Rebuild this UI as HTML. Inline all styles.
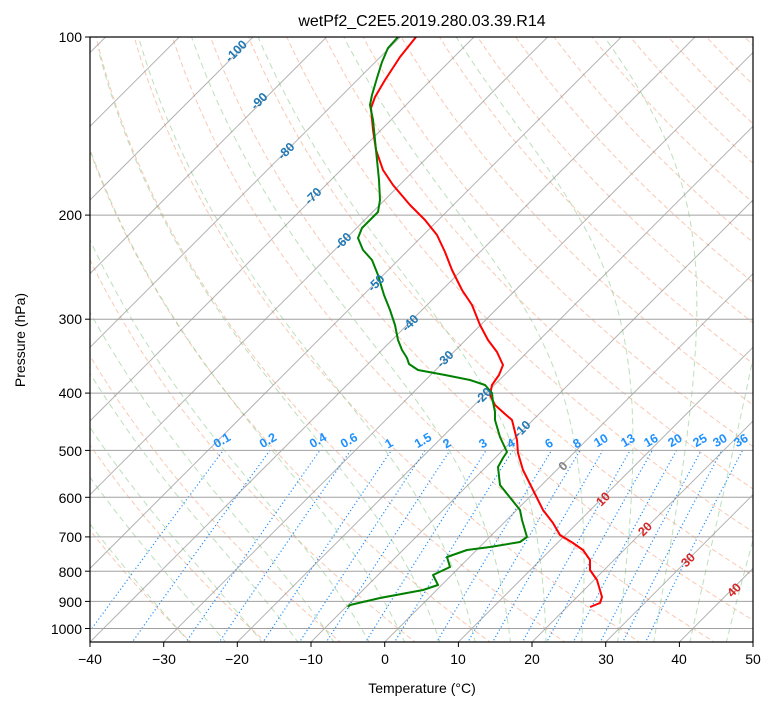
<!DOCTYPE html>
<html><head><meta charset="utf-8"><style>
body{margin:0;background:#fff;overflow:hidden;}
svg{display:block;font-family:"Liberation Sans","DejaVu Sans",sans-serif;}
</style></head><body>
<svg id="s" width="775" height="708" viewBox="0 0 775 708" xmlns="http://www.w3.org/2000/svg">
<defs><clipPath id="c"><rect x="90" y="37" width="663" height="605"/></clipPath></defs>
<rect width="775" height="708" fill="#fff"/>
<g id="bg" clip-path="url(#c)"></g>
<g id="data" clip-path="url(#c)" fill="none" stroke-width="2" stroke-linejoin="round">
<polyline stroke="red" points="416,37 400,57 385,80 375,97 371,108 373,130 376,150 383,170 393,185 410,205 425,220 437,235 445,252 452,270 462,290 472,305 480,325 488,340 497,352 503,365 499,375 492,385 490,395 495,405 505,414 512,420 517,440 518,453 523,470 533,490 543,510 553,523 560,535 573,543 583,550 590,560 590,570 597,580 602,597 600,603 590,607"/>
<polyline stroke="green" points="398,37 388,48 382,62 377,78 372,95 370,105 373,120 375,140 377,160 379,180 380,200 378,212 372,218 362,228 358,238 363,250 372,260 378,275 384,295 390,310 395,325 398,340 402,350 407,358 409,364 418,370 445,375 470,380 485,385 492,393 493,402 495,412 495,420 500,437 507,452 503,458 498,467 500,485 512,500 520,510 522,520 527,537 520,542 490,547 467,550 447,557 450,567 433,575 438,585 423,590 380,598 350,605 348,607"/>
</g>
<g font-size="12.5" font-weight="bold" text-anchor="middle">
<g fill="#1f77b4">
<text transform="translate(239,54) rotate(-45)">-100</text>
<text transform="translate(262,104) rotate(-45)">-90</text>
<text transform="translate(289,154) rotate(-45)">-80</text>
<text transform="translate(316,199) rotate(-45)">-70</text>
<text transform="translate(346,244) rotate(-45)">-60</text>
<text transform="translate(379,286) rotate(-45)">-50</text>
<text transform="translate(413,326) rotate(-45)">-40</text>
<text transform="translate(448,362) rotate(-45)">-30</text>
<text transform="translate(486,399) rotate(-45)">-20</text>
<text transform="translate(525,432) rotate(-45)">-10</text>
</g>
<text fill="#808080" transform="translate(566,469) rotate(-45)">0</text>
<g fill="#d62728">
<text transform="translate(606,502) rotate(-45)">10</text>
<text transform="translate(648,532) rotate(-45)">20</text>
<text transform="translate(691,563) rotate(-45)">30</text>
<text transform="translate(737,593) rotate(-45)">40</text>
</g>
<g fill="#1e90ff" id="ml">
<text transform="translate(224,444) rotate(-30)">0.1</text>
<text transform="translate(270,444) rotate(-30)">0.2</text>
<text transform="translate(320,444) rotate(-30)">0.4</text>
<text transform="translate(351,444) rotate(-30)">0.6</text>
<text transform="translate(391,447) rotate(-30)">1</text>
<text transform="translate(425,444) rotate(-30)">1.5</text>
<text transform="translate(449,447) rotate(-30)">2</text>
<text transform="translate(485,447) rotate(-30)">3</text>
<text transform="translate(513,447) rotate(-30)">4</text>
<text transform="translate(551,447) rotate(-30)">6</text>
<text transform="translate(579,447) rotate(-30)">8</text>
<text transform="translate(603,444) rotate(-30)">10</text>
<text transform="translate(630,444) rotate(-30)">13</text>
<text transform="translate(653,444) rotate(-30)">16</text>
<text transform="translate(677,444) rotate(-30)">20</text>
<text transform="translate(702,444) rotate(-30)">25</text>
<text transform="translate(722,444) rotate(-30)">30</text>
<text transform="translate(743,444) rotate(-30)">36</text>
</g>
</g>
<rect x="90" y="37" width="663" height="605" fill="none" stroke="#000" stroke-width="1.2"/>
<g id="ticks" stroke="#000" stroke-width="1"></g>
<g font-size="14" fill="#000" text-anchor="end">
<text x="82" y="42">100</text><text x="82" y="220">200</text><text x="82" y="324">300</text>
<text x="82" y="398">400</text><text x="82" y="456">500</text><text x="82" y="503">600</text>
<text x="82" y="542">700</text><text x="82" y="577">800</text><text x="82" y="607">900</text>
<text x="82" y="634">1000</text>
</g>
<g font-size="14" fill="#000" text-anchor="middle">
<text x="90" y="664">−40</text><text x="164" y="664">−30</text><text x="237" y="664">−20</text>
<text x="311" y="664">−10</text><text x="385" y="664">0</text><text x="458" y="664">10</text>
<text x="532" y="664">20</text><text x="606" y="664">30</text><text x="679" y="664">40</text>
<text x="753" y="664">50</text>
<text x="422" y="693">Temperature (°C)</text>
<text x="422" y="26" font-size="16">wetPf2_C2E5.2019.280.03.39.R14</text>
<text transform="translate(25,340) rotate(-90)">Pressure (hPa)</text>
</g>
</svg>
<script>
(function(){
var NS="http://www.w3.org/2000/svg",bg=document.getElementById('bg'),tk=document.getElementById('ticks');
function Y(p){return 628.5+591.5*Math.log10(p/1000);}
function X(T,p){return 90+(T+40)*7.367+(642-Y(p));}
function line(pts,attrs,par){var e=document.createElementNS(NS,'polyline');e.setAttribute('points',pts.map(function(q){return q[0].toFixed(1)+','+q[1].toFixed(1);}).join(' '));e.setAttribute('fill','none');for(var k in attrs)e.setAttribute(k,attrs[k]);(par||bg).appendChild(e);}
var ps=[];for(var pp=1060;pp>=95;pp-=5)ps.push(pp);
for(var th=-30;th<=200;th+=10){var pts=ps.map(function(p){var T=(th+273.15)*Math.pow(p/1000,0.2857)-273.15;return[X(T,p),Y(p)];});line(pts,{stroke:'#f4a582','stroke-width':1,'stroke-dasharray':'5,3','stroke-opacity':0.6});}
function es(T){return 6.112*Math.exp(17.67*T/(T+243.5));}
function dTdp(T,p){var Tk=T+273.15,e=es(T),rs=0.622*e/(p-e),Rd=287,Lv=2.501e6,Cp=1005;return (Rd*Tk+Lv*rs)/(Cp+Lv*Lv*rs*0.622/(Rd*Tk*Tk))/p;}
for(var t0=-30;t0<=45;t0+=5){
 var pts=[],T,p;
 var Td=t0;for(var q=1000;q<1060;q+=5){Td+=dTdp(Td,q)*5;}
 T=Td;p=1060;
 while(p>=95){pts.push([X(T,p),Y(p)]);var h=-5;var k1=dTdp(T,p),k2=dTdp(T+k1*h/2,p+h/2),k3=dTdp(T+k2*h/2,p+h/2),k4=dTdp(T+k3*h,p+h);T+=h*(k1+2*k2+2*k3+k4)/6;p+=h;if(T<-120)break;}
 line(pts,{stroke:'#8fc98f','stroke-width':1,'stroke-dasharray':'6,4','stroke-opacity':0.6});
}
var ws=[0.1,0.2,0.4,0.6,1,1.5,2,3,4,6,8,10,13,16,20,25,30,36];
ws.forEach(function(w){var pts=[];for(var p=1060;p>=500;p-=10){var ww=w/1000,e=ww*p/(0.622+ww),l=Math.log(e/6.112),T=243.5*l/(17.67-l);pts.push([X(T,p),Y(p)]);}line(pts,{stroke:'#1e90ff','stroke-width':1.2,'stroke-dasharray':'1.2,2.5'});});
for(var t=-160;t<=50;t+=10){line([[X(t,1060),Y(1060)],[X(t,95),Y(95)]],{stroke:'#808080','stroke-width':1,'stroke-opacity':0.6});}
for(var pr=100;pr<=1000;pr+=100){line([[90,Y(pr)],[753,Y(pr)]],{stroke:'#a0a0a0','stroke-width':1});line([[85,Y(pr)],[90,Y(pr)]],{stroke:'#000'},tk);}
for(var tt=-40;tt<=50;tt+=10){var x=90+(tt+40)*7.367;line([[x,642],[x,647]],{stroke:'#000'},tk);}
})();
</script>
</body></html>
